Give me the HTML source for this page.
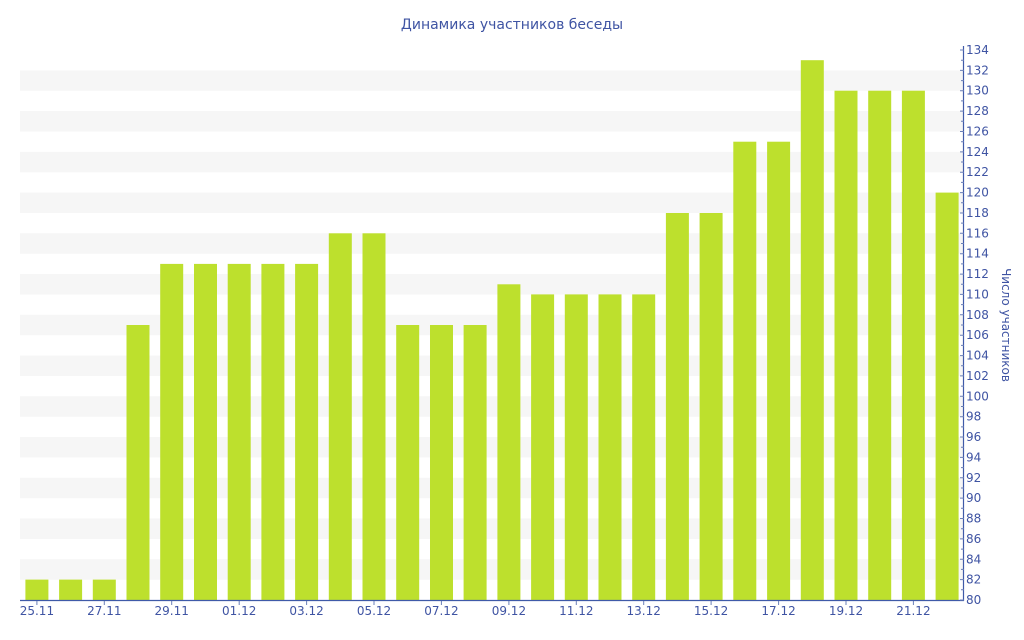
<!DOCTYPE html>
<html><head><meta charset="utf-8"><style>
body{margin:0;background:#fff}
svg{display:block;font-family:"DejaVu Sans","Liberation Sans",sans-serif}
</style></head><body>
<svg width="1024" height="640" viewBox="0 0 1024 640" xmlns="http://www.w3.org/2000/svg">
<text x="512" y="29" text-anchor="middle" font-size="14" fill="#3f54a3">Динамика участников беседы</text>
<g fill="#f6f6f6">
<rect x="20" y="559.3" width="943" height="20.4"/>
<rect x="20" y="518.5" width="943" height="20.4"/>
<rect x="20" y="477.8" width="943" height="20.4"/>
<rect x="20" y="437.0" width="943" height="20.4"/>
<rect x="20" y="396.3" width="943" height="20.4"/>
<rect x="20" y="355.6" width="943" height="20.4"/>
<rect x="20" y="314.8" width="943" height="20.4"/>
<rect x="20" y="274.1" width="943" height="20.4"/>
<rect x="20" y="233.3" width="943" height="20.4"/>
<rect x="20" y="192.6" width="943" height="20.4"/>
<rect x="20" y="151.9" width="943" height="20.4"/>
<rect x="20" y="111.1" width="943" height="20.4"/>
<rect x="20" y="70.4" width="943" height="20.4"/>
</g>
<g fill="#bde02d">
<rect x="25.4" y="579.6" width="23" height="20.4"/>
<rect x="59.1" y="579.6" width="23" height="20.4"/>
<rect x="92.8" y="579.6" width="23" height="20.4"/>
<rect x="126.5" y="325.0" width="23" height="275"/>
<rect x="160.2" y="263.9" width="23" height="336.1"/>
<rect x="194.0" y="263.9" width="23" height="336.1"/>
<rect x="227.7" y="263.9" width="23" height="336.1"/>
<rect x="261.4" y="263.9" width="23" height="336.1"/>
<rect x="295.1" y="263.9" width="23" height="336.1"/>
<rect x="328.8" y="233.3" width="23" height="366.7"/>
<rect x="362.5" y="233.3" width="23" height="366.7"/>
<rect x="396.2" y="325.0" width="23" height="275"/>
<rect x="430.0" y="325.0" width="23" height="275"/>
<rect x="463.6" y="325.0" width="23" height="275"/>
<rect x="497.4" y="284.3" width="23" height="315.7"/>
<rect x="531.1" y="294.4" width="23" height="305.6"/>
<rect x="564.8" y="294.4" width="23" height="305.6"/>
<rect x="598.5" y="294.4" width="23" height="305.6"/>
<rect x="632.2" y="294.4" width="23" height="305.6"/>
<rect x="665.9" y="213.0" width="23" height="387"/>
<rect x="699.6" y="213.0" width="23" height="387"/>
<rect x="733.3" y="141.7" width="23" height="458.3"/>
<rect x="767.1" y="141.7" width="23" height="458.3"/>
<rect x="800.8" y="60.2" width="23" height="539.8"/>
<rect x="834.5" y="90.7" width="23" height="509.3"/>
<rect x="868.2" y="90.7" width="23" height="509.3"/>
<rect x="901.9" y="90.7" width="23" height="509.3"/>
<rect x="935.6" y="192.6" width="23" height="407.4"/>
</g>
<g stroke="#3f5aa8" stroke-width="1.2" fill="none">
<line x1="20" y1="600.5" x2="964" y2="600.5"/>
<line x1="963.5" y1="46" x2="963.5" y2="601"/>
</g>
<g stroke="#6a7fb8" stroke-width="1">
<path d="M960 50h4M960 70.4h4M960 90.7h4M960 111.1h4M960 131.5h4M960 151.9h4M960 172.2h4M960 192.6h4M960 213h4M960 233.3h4M960 253.7h4M960 274.1h4M960 294.4h4M960 314.8h4M960 335.2h4M960 355.6h4M960 375.9h4M960 396.3h4M960 416.7h4M960 437h4M960 457.4h4M960 477.8h4M960 498.1h4M960 518.5h4M960 538.9h4M960 559.3h4M960 579.6h4M960 600h4"/>
<path d="M961 60.2h3M961 80.6h3M961 100.9h3M961 121.3h3M961 141.7h3M961 162h3M961 182.4h3M961 202.8h3M961 223.1h3M961 243.5h3M961 263.9h3M961 284.3h3M961 304.6h3M961 325h3M961 345.4h3M961 365.7h3M961 386.1h3M961 406.5h3M961 426.9h3M961 447.2h3M961 467.6h3M961 488h3M961 508.3h3M961 528.7h3M961 549.1h3M961 569.4h3M961 589.8h3"/>
<path d="M36.9 601v4M104.3 601v4M171.7 601v4M239.2 601v4M306.6 601v4M374 601v4M441.4 601v4M508.9 601v4M576.3 601v4M643.7 601v4M711.1 601v4M778.6 601v4M846 601v4M913.4 601v4"/>
</g>
<g font-size="12" fill="#3f54a3">
<text x="966" y="54">134</text><text x="966" y="74.4">132</text><text x="966" y="94.7">130</text><text x="966" y="115.1">128</text><text x="966" y="135.5">126</text><text x="966" y="155.9">124</text><text x="966" y="176.2">122</text><text x="966" y="196.6">120</text><text x="966" y="217">118</text><text x="966" y="237.3">116</text><text x="966" y="257.7">114</text><text x="966" y="278.1">112</text><text x="966" y="298.4">110</text><text x="966" y="318.8">108</text><text x="966" y="339.2">106</text><text x="966" y="359.6">104</text><text x="966" y="379.9">102</text><text x="966" y="400.3">100</text><text x="966" y="420.7">98</text><text x="966" y="441">96</text><text x="966" y="461.4">94</text><text x="966" y="481.8">92</text><text x="966" y="502.1">90</text><text x="966" y="522.5">88</text><text x="966" y="542.9">86</text><text x="966" y="563.3">84</text><text x="966" y="583.6">82</text><text x="966" y="604">80</text>
</g>
<g font-size="12" fill="#3f54a3" text-anchor="middle">
<text x="36.9" y="615">25.11</text><text x="104.3" y="615">27.11</text><text x="171.7" y="615">29.11</text><text x="239.2" y="615">01.12</text><text x="306.6" y="615">03.12</text><text x="374" y="615">05.12</text><text x="441.4" y="615">07.12</text><text x="508.9" y="615">09.12</text><text x="576.3" y="615">11.12</text><text x="643.7" y="615">13.12</text><text x="711.1" y="615">15.12</text><text x="778.6" y="615">17.12</text><text x="846" y="615">19.12</text><text x="913.4" y="615">21.12</text>
</g>
<text x="0" y="0" transform="translate(1002,325) rotate(90)" text-anchor="middle" font-size="12" fill="#3f54a3">Число участников</text>
</svg>
</body></html>
